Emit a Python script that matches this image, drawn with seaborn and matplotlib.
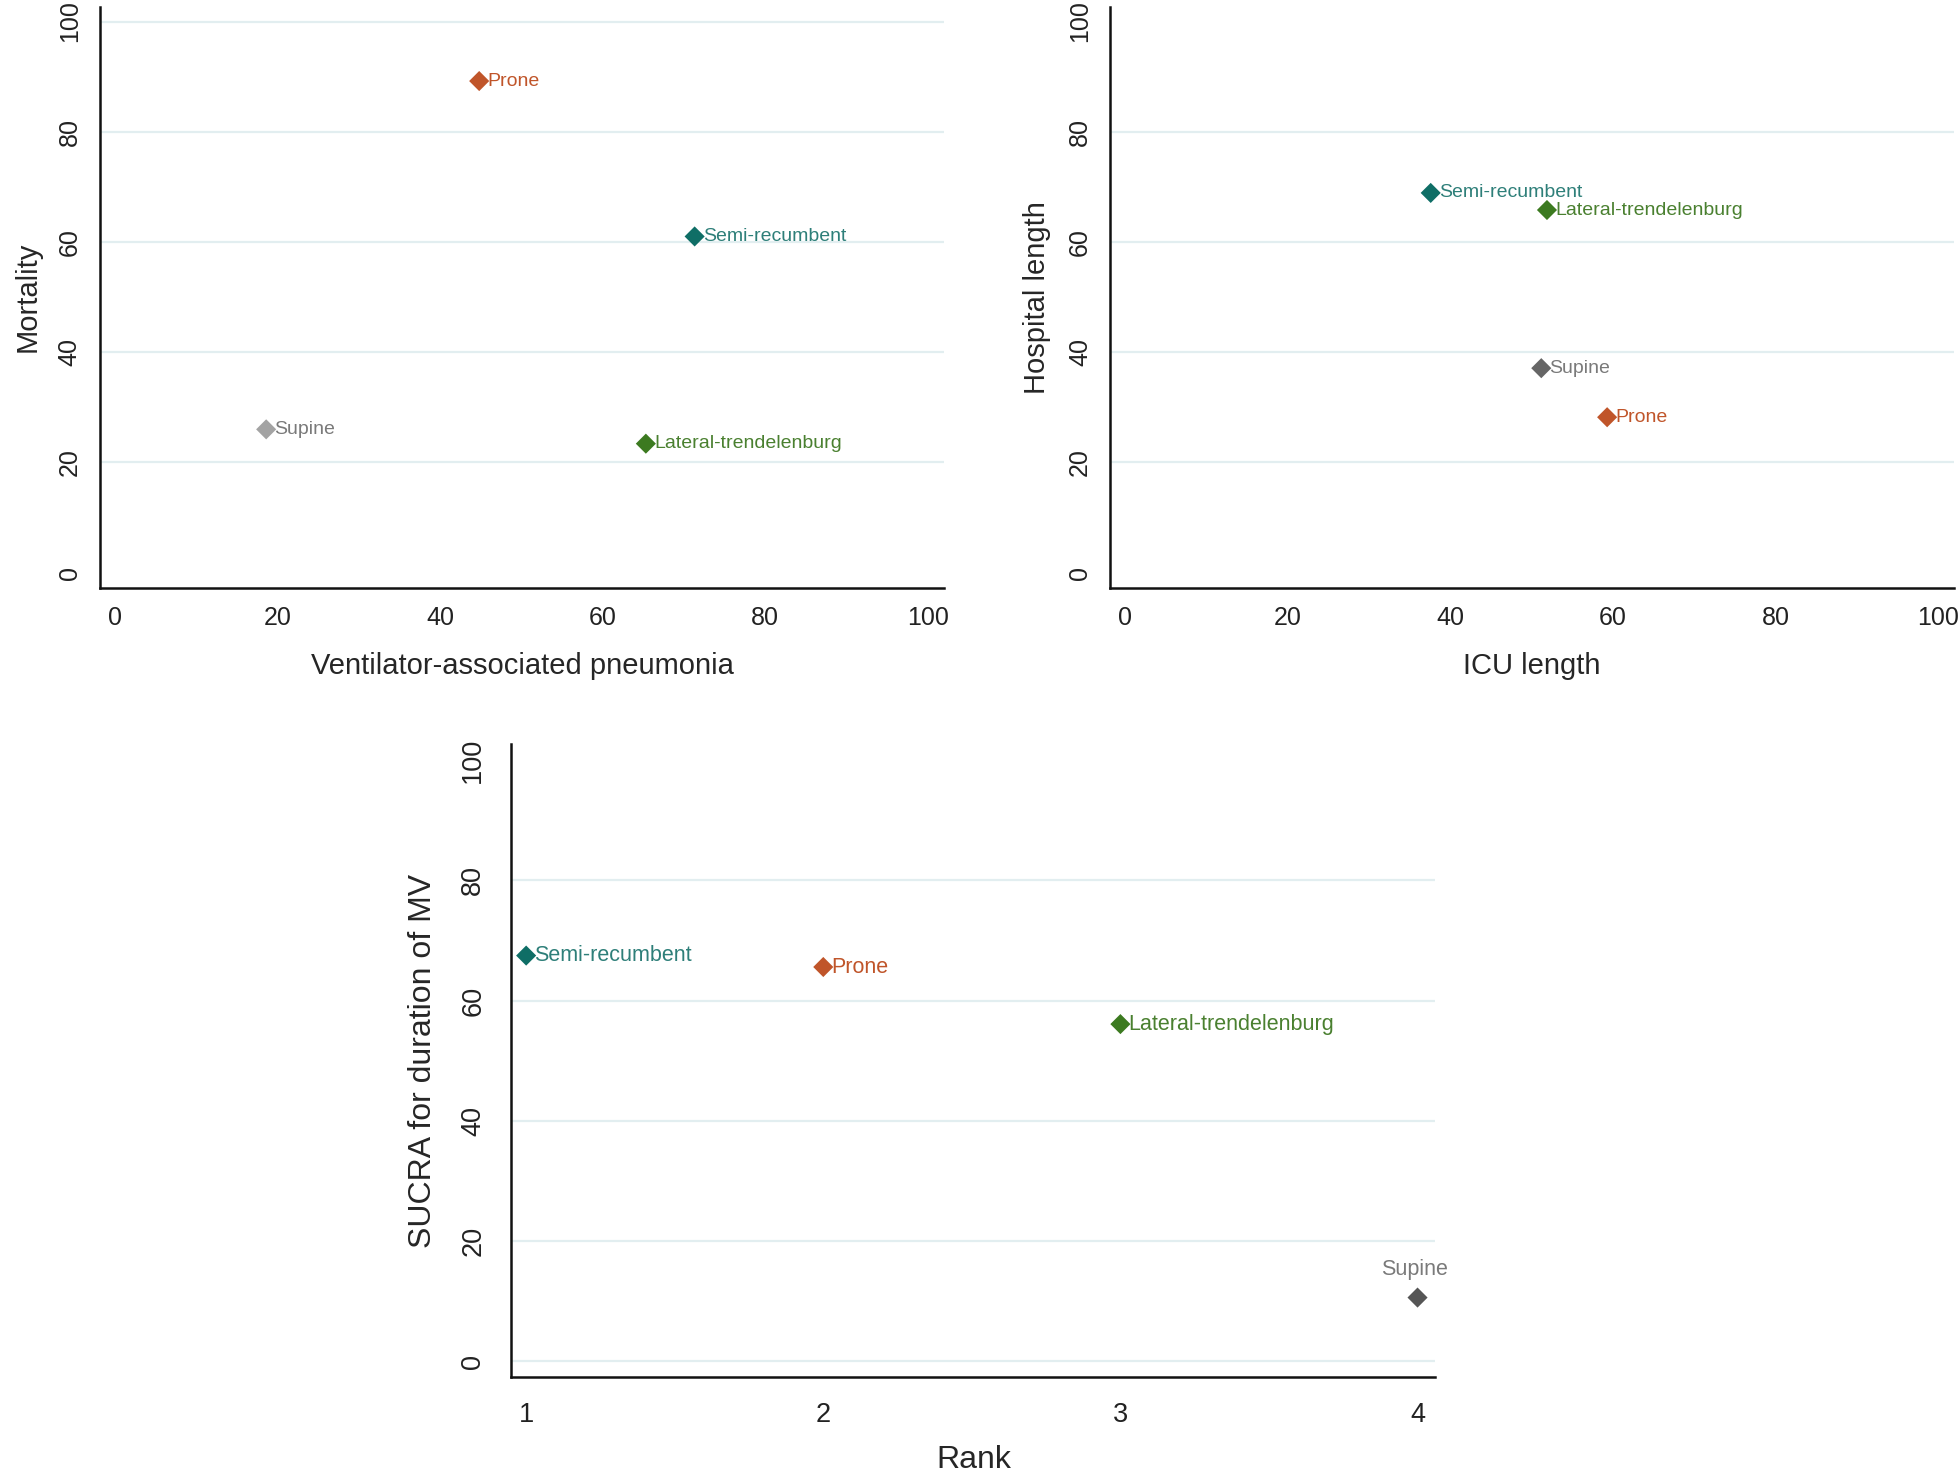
import matplotlib.pyplot as plt
import pandas as pd
import seaborn as sns

treatments = ['Prone', 'Semi-recumbent', 'Supine', 'Lateral-trendelenburg']

# panel 1
vap = [44.8, 71.3, 18.6, 65.3]
mortality = [89.2, 61.0, 26.0, 23.4]
# panel 2
icu_length = [59.3, 37.6, 51.2, 51.9]
hospital_length = [28.2, 68.9, 37.1, 65.8]
# panel 3
rank = [2, 1, 4, 3]
sucra_mv = [65.6, 67.5, 10.6, 56.1]

ticks_0_100 = [0, 20, 40, 60, 80, 100]
rank_ticks = [1, 2, 3, 4]

colors = {'Prone': '#c0552a', 'Semi-recumbent': '#0f6e66',
          'Supine': '#9c9c9c', 'Lateral-trendelenburg': '#3c7a20'}
label_colors = {'Prone': '#c0552a', 'Semi-recumbent': '#2e7f79',
                'Supine': '#7a7a7a', 'Lateral-trendelenburg': '#4a8030'}

sns.set_style('white')
plt.rcParams['font.family'] = ['Liberation Sans', 'DejaVu Sans']

fig = plt.figure(figsize=(19.59, 14.78), dpi=100)
ax1 = fig.add_axes([0.051, 0.6025, 0.431, 0.393])
ax2 = fig.add_axes([0.5666, 0.6025, 0.431, 0.393])
ax3 = fig.add_axes([0.261, 0.068, 0.4717, 0.4286])


def panel(ax, x, y, xlabel, ylabel, xticks, xlim, grid, supine_color,
          lab_size, supine_above=False, ylab_size=21, xlab_size=21,
          tick_size=18, xpad=16, ypad=12, tpad=7):
    df = pd.DataFrame({'treatment': treatments, 'x': x, 'y': y})
    pal = dict(colors)
    pal['Supine'] = supine_color
    for g in grid:
        ax.axhline(g, color='#e2eef0', lw=1.6, zorder=0)
    sns.scatterplot(data=df, x='x', y='y', hue='treatment', palette=pal,
                    marker='D', s=105, edgecolor='none', legend=False,
                    ax=ax, zorder=3)
    for t, xi, yi in zip(treatments, x, y):
        if t == 'Supine' and supine_above:
            ax.annotate(t, (xi, yi), xytext=(-2, 13), textcoords='offset points',
                        ha='center', va='bottom', fontsize=lab_size,
                        color=label_colors[t])
        else:
            ax.annotate(t, (xi, yi), xytext=(6, 0), textcoords='offset points',
                        ha='left', va='center', fontsize=lab_size,
                        color=label_colors[t])
    ax.set_xlim(*xlim)
    ax.set_ylim(-2.7, 102.7)
    ax.set_xticks(xticks)
    ax.set_yticks(ticks_0_100)
    ax.set_xlabel(xlabel, fontsize=xlab_size, labelpad=xpad)
    ax.set_ylabel(ylabel, fontsize=ylab_size, labelpad=ypad)
    ax.tick_params(axis='both', direction='out', length=6, width=1.3,
                   labelsize=tick_size, colors='#222222', pad=tpad)
    ax.tick_params(axis='y', labelrotation=90)
    for lab in ax.get_yticklabels():
        lab.set_va('center')
    for side in ['top', 'right']:
        ax.spines[side].set_visible(False)
    for side in ['left', 'bottom']:
        ax.spines[side].set_linewidth(1.8)
        ax.spines[side].set_color('#111111')


panel(ax1, vap, mortality, 'Ventilator-associated pneumonia', 'Mortality',
      ticks_0_100, (-1.85, 102), [20, 40, 60, 80, 100], '#a3a3a3', 14)
panel(ax2, icu_length, hospital_length, 'ICU length', 'Hospital length',
      ticks_0_100, (-1.85, 102), [20, 40, 60, 80], '#666666', 14)
panel(ax3, rank, sucra_mv, 'Rank', 'SUCRA for duration of MV',
      rank_ticks, (0.95, 4.06), [0, 20, 40, 60, 80], '#555555', 15.5,
      supine_above=True, ylab_size=23, xlab_size=23, tick_size=19.5,
      xpad=12, ypad=16, tpad=12)

fig.savefig('out.png', dpi=100, facecolor='white')
